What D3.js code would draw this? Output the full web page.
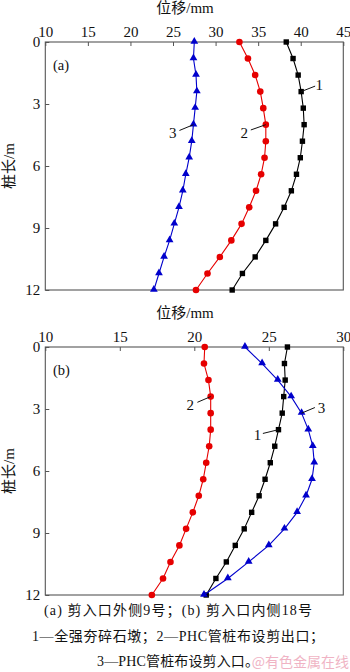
<!DOCTYPE html>
<html>
<head>
<meta charset="utf-8">
<script src="https://cdn.jsdelivr.net/npm/d3@7"></script>
<style>
  html, body { margin: 0; padding: 0; background: #fff; }
  svg { display: block; }
</style>
</head>
<body>
<svg id="chart" width="350" height="672"></svg>
<script>
// Pile depth (m) at each measuring point
const depth = [0, 0.8, 1.6, 2.4, 3.2, 4.0, 4.8, 5.6, 6.4, 7.2, 8.0, 8.8, 9.6, 10.4, 11.2, 12];

// (a) pile No. 9, outside the shear inlet — displacement (mm)
const a1 = [38.3, 39.1, 39.7, 40.05, 40.3, 40.4, 40.2, 39.95, 39.5, 38.9, 38.05, 37.05, 35.9, 34.65, 33.15, 31.95];
const a2 = [32.8, 33.8, 34.65, 35.25, 35.6, 35.9, 35.9, 35.75, 35.35, 34.75, 33.95, 33.05, 31.85, 30.5, 29.05, 27.7];
const a3 = [27.5, 27.4, 27.7, 27.8, 27.6, 27.4, 27.2, 26.9, 26.5, 26.15, 25.7, 25.15, 24.6, 23.95, 23.35, 22.75];

// (b) pile No. 18, inside the shear inlet — displacement (mm)
const b1 = [26.25, 26.05, 26.1, 26.0, 25.9, 25.65, 25.4, 25.1, 24.75, 24.35, 23.85, 23.35, 22.75, 22.15, 21.45, 20.8];
const b2 = [20.7, 20.65, 20.95, 21.1, 21.1, 21.1, 21.0, 20.8, 20.6, 20.3, 19.9, 19.45, 19.0, 18.4, 17.9, 17.15];
const b3 = [23.4, 24.55, 25.6, 26.5, 27.2, 27.65, 27.95, 28.05, 27.9, 27.5, 26.9, 26.05, 25.0, 23.65, 22.25, 20.65];

// Axis ticks
const xTicksA = [10, 15, 20, 25, 30, 35, 40, 45];
const xTicksB = [10, 15, 20, 25, 30];
const yTicks = [0, 3, 6, 9, 12];

// Series labels and caption text
const seriesNames = ["1", "2", "3"];
const xTitle = "位移/mm";
const yTitle = "桩长/m";
const captionLines = [
  "(a) 剪入口外侧9号；(b) 剪入口内侧18号",
  "1—全强夯碎石墩；2—PHC管桩布设剪出口；",
  "3—PHC管桩布设剪入口。"
];
const watermark = "@有色金属在线";

const FONT = "'Liberation Serif', 'Times New Roman', 'Noto Sans CJK SC', serif";
const colors = ["#000000", "#e60000", "#0000cc"];
const svg = d3.select("#chart");

const left = 45.3, right = 343.3;

function drawPanel(cfg) {
  const { top, bottom, xDomain, xTicks, series, tag, notes } = cfg;
  const x = d3.scaleLinear().domain(xDomain).range([left, right]);
  const y = d3.scaleLinear().domain([0, 12]).range([top, bottom]);
  const g = svg.append("g");

  // Frame
  g.append("rect")
    .attr("x", left).attr("y", top)
    .attr("width", right - left).attr("height", bottom - top)
    .attr("fill", "none").attr("stroke", "#555").attr("stroke-width", 1.1);

  // Top axis with inward ticks
  const xa = g.append("g").attr("transform", `translate(0,${top})`)
    .call(d3.axisTop(x).tickValues(xTicks).tickSizeInner(-4).tickSizeOuter(0).tickPadding(5).tickFormat(d3.format("d")));
  xa.select(".domain").remove();
  xa.selectAll("line").attr("stroke", "#555");
  xa.selectAll("text").attr("font-family", FONT).attr("font-size", 15).attr("fill", "#111");

  // Left axis with inward ticks
  const ya = g.append("g").attr("transform", `translate(${left},0)`)
    .call(d3.axisLeft(y).tickValues(yTicks).tickSizeInner(-4).tickSizeOuter(0).tickPadding(5).tickFormat(d3.format("d")));
  ya.select(".domain").remove();
  ya.selectAll("line").attr("stroke", "#555");
  ya.selectAll("text").attr("font-family", FONT).attr("font-size", 15).attr("fill", "#111");

  // Axis titles
  g.append("text").attr("x", 185).attr("y", top - 29)
    .attr("text-anchor", "middle").attr("font-family", FONT).attr("font-size", 15).attr("fill", "#111")
    .text(xTitle);
  g.append("text")
    .attr("transform", `translate(14,${(top + bottom) / 2}) rotate(-90)`)
    .attr("text-anchor", "middle").attr("font-family", FONT).attr("font-size", 15).attr("fill", "#111")
    .text(yTitle);

  // Panel tag
  g.append("text").attr("x", 53).attr("y", top + 28)
    .attr("font-family", FONT).attr("font-size", 14.5).attr("fill", "#111").text(tag);

  const line = d3.line().x(d => x(d[0])).y(d => y(d[1]));

  series.forEach((vals, i) => {
    const pts = vals.map((v, k) => [v, depth[k]]);
    g.append("path").datum(pts)
      .attr("d", line).attr("fill", "none")
      .attr("stroke", colors[i]).attr("stroke-width", 1.1);

    const mk = g.append("g");
    pts.forEach(p => {
      const cx = x(p[0]), cy = y(p[1]);
      if (i === 0) {
        mk.append("rect").attr("x", cx - 2.7).attr("y", cy - 2.7)
          .attr("width", 5.4).attr("height", 5.4).attr("fill", colors[i]);
      } else if (i === 1) {
        mk.append("circle").attr("cx", cx).attr("cy", cy).attr("r", 3.3).attr("fill", colors[i]);
      } else {
        mk.append("path").attr("d", d3.symbol(d3.symbolTriangle, 26)())
          .attr("transform", `translate(${cx},${cy - 0.5})`).attr("fill", colors[i]);
      }
    });
  });

  // Leader lines with series numbers
  notes.forEach(n => {
    const vals = series[n.s];
    const px = x(vals[n.k]), py = y(depth[n.k]);
    g.append("line")
      .attr("x1", px).attr("y1", py)
      .attr("x2", px + n.lx).attr("y2", py + n.ly)
      .attr("stroke", "#111").attr("stroke-width", 1);
    g.append("text")
      .attr("x", px + n.tx).attr("y", py + n.ty)
      .attr("text-anchor", "middle").attr("dominant-baseline", "central")
      .attr("font-family", FONT).attr("font-size", 15).attr("fill", "#111")
      .text(seriesNames[n.s]);
  });
}

drawPanel({
  top: 42, bottom: 290, xDomain: [10, 45], xTicks: xTicksA,
  series: [a1, a2, a3], tag: "(a)",
  notes: [
    { s: 0, k: 3, lx: 14, ly: -5.5, tx: 18, ty: -7 },
    { s: 1, k: 5, lx: -15, ly: 5.3, tx: -21.5, ty: 8 },
    { s: 2, k: 5, lx: -14, ly: 5.8, tx: -20.6, ty: 8 }
  ]
});

drawPanel({
  top: 347, bottom: 595, xDomain: [10, 30], xTicks: xTicksB,
  series: [b1, b2, b3], tag: "(b)",
  notes: [
    { s: 1, k: 3, lx: -13.3, ly: 5.7, tx: -20.5, ty: 8 },
    { s: 2, k: 4, lx: 13.3, ly: -5.6, tx: 20, ty: -5.6 },
    { s: 0, k: 5, lx: -15.6, ly: 3.8, tx: -21, ty: 5.5 }
  ]
});

// Caption, each line spread to its set width
const capY = [615, 641, 666];
const capW = [268, 292, 162];
captionLines.forEach((t, i) => {
  svg.append("text").attr("x", 178).attr("y", capY[i])
    .attr("text-anchor", "middle").attr("font-family", FONT)
    .attr("font-size", 14).attr("fill", "#111")
    .attr("textLength", capW[i]).attr("lengthAdjust", "spacing")
    .text(t);
});

svg.append("text").attr("x", 349).attr("y", 667)
  .attr("text-anchor", "end").attr("font-family", "'Noto Sans CJK SC', sans-serif")
  .attr("font-size", 14).attr("fill", "#e26a8a").attr("opacity", 0.5).text(watermark);
</script>
</body>
</html>
